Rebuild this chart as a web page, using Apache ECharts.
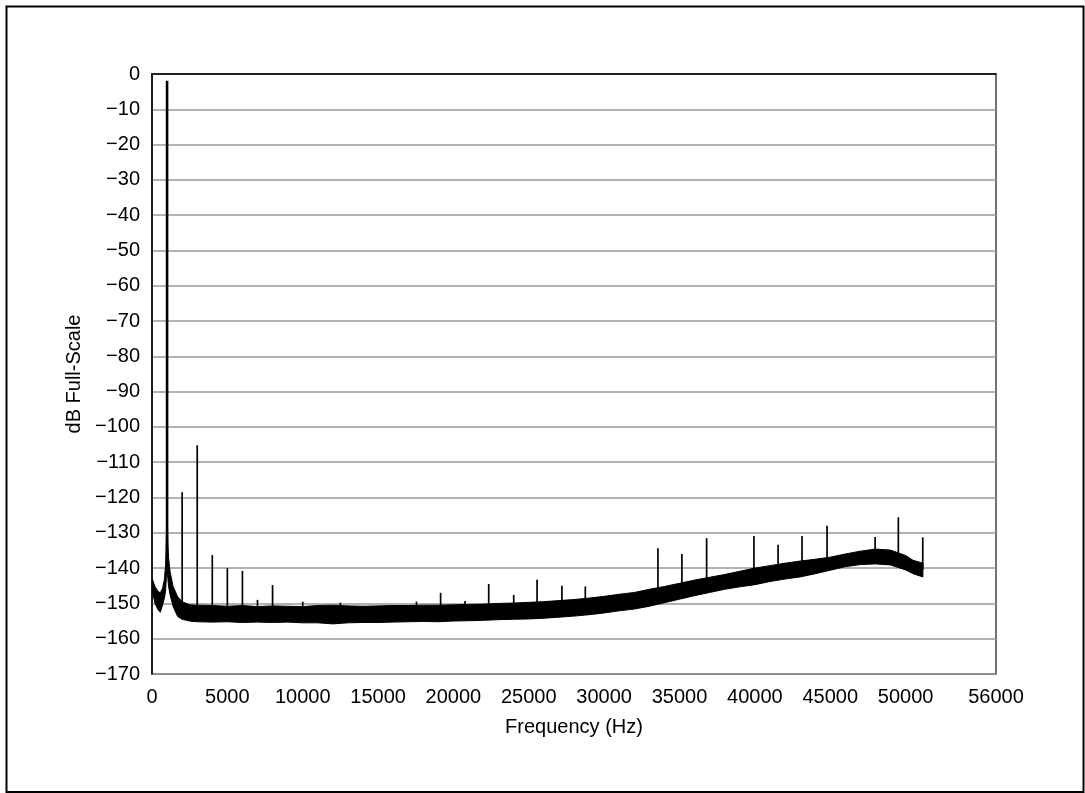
<!DOCTYPE html>
<html><head><meta charset="utf-8">
<script src="https://cdn.jsdelivr.net/npm/echarts@6/dist/echarts.min.js"></script>
<style>html,body{margin:0;padding:0;background:#fff}#c{width:1085px;height:793px}</style>
</head><body><div id="c"></div>
<script>
// Axis ticks
const xTicks = [0,5000,10000,15000,20000,25000,30000,35000,40000,45000,50000,56000];
const yTicks = [0,-10,-20,-30,-40,-50,-60,-70,-80,-90,-100,-110,-120,-130,-140,-150,-160,-170];

// Noise floor envelope (Hz, dBFS)
const bandFreq = [0,200,400,550,700,820,900,950,980,1000,1020,1050,1100,1200,1400,1700,2000,2500,3000,4000,5000,6000,7000,8000,9000,10000,11000,12000,13000,14000,15000,16000,17000,18000,19000,20000,21000,22000,23000,24000,25000,26000,27000,28000,29000,30000,31000,32000,33000,34000,35000,36000,37000,38000,39000,40000,41000,42000,43000,44000,45000,46000,47000,48000,49000,50000,50500,51000,51150];
const bandHigh = [-142.9,-145.2,-146.6,-147,-145.7,-143.3,-139,-132,-124,-123,-126,-133,-137,-141,-145.2,-148.1,-149.5,-150.4,-150.5,-150.6,-150.8,-150.6,-150.9,-150.7,-150.8,-150.9,-150.6,-150.5,-150.7,-150.8,-150.7,-150.6,-150.6,-150.5,-150.5,-150.4,-150.3,-150.2,-150.0,-149.9,-149.7,-149.5,-149.2,-148.9,-148.5,-148.0,-147.4,-146.9,-146.0,-145.2,-144.3,-143.4,-142.6,-141.8,-140.9,-140.0,-139.3,-138.6,-138.0,-137.5,-136.9,-136.0,-135.2,-134.6,-134.9,-136.4,-137.8,-138.4,-138.6];
const bandLow = [-146.2,-150,-151.8,-152.5,-150.5,-148.5,-146.5,-143,-140,-139.5,-140.5,-143,-145.2,-147.6,-150.9,-153.7,-154.5,-155.0,-155.2,-155.3,-155.2,-155.4,-155.3,-155.4,-155.3,-155.5,-155.5,-155.8,-155.5,-155.4,-155.4,-155.3,-155.2,-155.1,-155.2,-155.0,-154.9,-154.8,-154.6,-154.5,-154.4,-154.2,-153.9,-153.6,-153.2,-152.7,-152.1,-151.6,-150.8,-149.8,-148.8,-147.8,-146.9,-146.0,-145.3,-144.7,-143.8,-143.1,-142.5,-141.6,-140.6,-139.6,-139.0,-138.8,-139.1,-140.5,-141.6,-142.3,-142.5];

// Spectral lines (Hz, peak dBFS, floor dBFS)
const spikeFreq  = [1000,2000,3000,4000,5000,6000,7000,8000,10000,12500,17550,19150,20770,22340,24000,25550,27200,28750,33570,35160,36800,39940,41540,43130,44790,47980,49520,51140];
const spikePeak  = [-1.9,-118.5,-105.2,-136.3,-140,-140.8,-149,-144.8,-149.5,-149.8,-149.5,-147,-149.3,-144.5,-147.6,-143.3,-145,-145.2,-134.4,-136,-131.5,-130.9,-133.4,-130.9,-128,-131.2,-125.6,-131.3];
const spikeFloor = [-135,-152,-152.5,-153,-153,-153,-153,-153,-153,-153,-153,-152.8,-152.6,-152.4,-152.2,-152,-151.6,-151,-148,-146.5,-145,-142.5,-141,-140,-139,-136.7,-137,-140.5];

const FONT = 'Liberation Sans, Arial, sans-serif';
const fmtY = v => v < 0 ? '\u2212' + Math.abs(v) : String(v);
const fmtX = v => String(v);

const chart = echarts.init(document.getElementById('c'), null, {renderer:'canvas'});
chart.setOption({
  animation:false,
  backgroundColor:'#fff',
  textStyle:{fontFamily:FONT},
  grid:{left:152,right:89,top:74,bottom:119,show:true,borderColor:'#444',borderWidth:1.5,backgroundColor:'transparent'},
  xAxis:{
    type:'value',min:0,max:56000,
    axisLine:{show:true,lineStyle:{color:'#000',width:1.5}},
    axisTick:{show:false},
    splitLine:{show:false},
    axisLabel:{customValues:xTicks,formatter:fmtX,margin:13,fontSize:20,color:'#000',fontFamily:FONT},
    name:'Frequency (Hz)',nameLocation:'middle',nameGap:43,
    nameTextStyle:{fontSize:20,color:'#000',fontFamily:FONT}
  },
  yAxis:{
    type:'value',min:-170,max:0,interval:10,
    axisLine:{show:true,onZero:false,lineStyle:{color:'#000',width:1.5}},
    axisTick:{show:false},
    splitLine:{show:true,lineStyle:{color:'#999',width:1.5}},
    axisLabel:{customValues:yTicks,formatter:fmtY,margin:12,fontSize:20,color:'#000',fontFamily:FONT},
    name:'dB Full-Scale',nameLocation:'middle',nameGap:58,nameRotate:90,
    nameTextStyle:{fontSize:20,color:'#000',fontFamily:FONT}
  },
  graphic:[{type:'rect',shape:{x:6.5,y:6.5,width:1077,height:785.5},style:{fill:'none',stroke:'#000',lineWidth:2},silent:true,z:100}],
  series:[
    {
      type:'custom',name:'floor',
      data:bandFreq.map((f,i)=>[f,bandLow[i],bandHigh[i]]),
      encode:{x:0,y:[1,2]},
      clip:true,
      renderItem:function(params,api){
        if(params.dataIndexInside!==0) return null;
        const n = params.dataInsideLength;
        const pts=[];
        for(let i=0;i<n;i++) pts.push(api.coord([api.value(0,i),api.value(2,i)]));
        for(let i=n-1;i>=0;i--) pts.push(api.coord([api.value(0,i),api.value(1,i)]));
        return {type:'polygon',shape:{points:pts},style:{fill:'#000',stroke:'#000',lineWidth:1}};
      }
    },
    {
      type:'custom',name:'lines',
      data:spikeFreq.map((f,i)=>[f,spikePeak[i],spikeFloor[i]]),
      encode:{x:0,y:[1,2]},
      clip:true,
      renderItem:function(params,api){
        const p1=api.coord([api.value(0),api.value(2)]);
        const p2=api.coord([api.value(0),api.value(1)]);
        return {type:'line',shape:{x1:p1[0],y1:p1[1],x2:p2[0],y2:p2[1]},
          style:{stroke:'#000',lineWidth:params.dataIndex===0?2.6:1.7}};
      }
    }
  ]
});
</script>
</body></html>
